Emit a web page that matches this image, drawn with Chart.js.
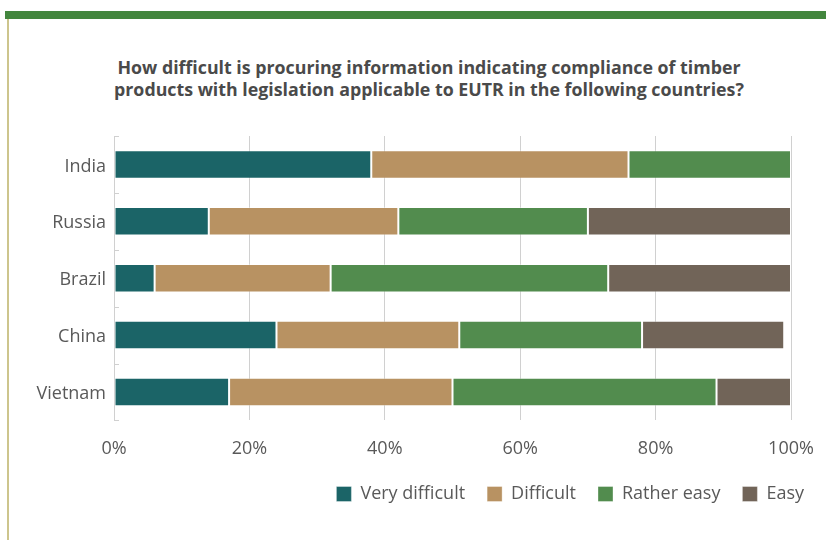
<!DOCTYPE html>
<html>
<head>
<meta charset="utf-8">
<script src="https://cdn.jsdelivr.net/npm/chart.js@4.4.1/dist/chart.umd.min.js"></script>
<style>
  html, body { margin: 0; padding: 0; background: #fff; }
  #wrap { position: relative; width: 826px; height: 540px; overflow: hidden; }
  #topbar { position: absolute; left: 5px; top: 11px; width: 821px; height: 8px; background: #43863e; }
  #sidebar { position: absolute; left: 7px; top: 19px; width: 2px; height: 521px; background: #cdc58d; }
  #title { position: absolute; left: 29px; width: 800px; top: 56px; text-align: center;
           font-family: "Open Sans", sans-serif; font-weight: bold; font-size: 17.8px; line-height: 22px; color: #4a4a4a; }
  #c { position: absolute; left: 0; top: 0; }
</style>
</head>
<body>
<div id="wrap">
  <div id="topbar"></div>
  <div id="sidebar"></div>
  <div id="title"></div>
  <canvas id="c" width="826" height="540"></canvas>
</div>
<script>
const categories = ["India", "Russia", "Brazil", "China", "Vietnam"];
const veryDifficult = [38, 14, 6, 24, 17];
const difficult = [38, 28, 26, 27, 33];
const ratherEasy = [24, 28, 41, 27, 39];
const easy = [0, 30, 27, 21, 11];
const xTicks = [0, 20, 40, 60, 80, 100];
const titleLines = [
  "How difficult is procuring information indicating compliance of timber",
  "products with legislation applicable to EUTR in the following countries?"
];

document.getElementById("title").innerHTML = titleLines.join("<br>");

const FONT = "'Open Sans', sans-serif";
const TEXT = "#595959";

const innerTicks = {
  id: "innerTicks",
  afterLayout(chart) {
    chart.legend.left += 35;
    chart.legend.right += 35;
    chart.legend.top -= 15;
    chart.legend.bottom -= 15;
  },
  afterDatasetsDraw(chart) {
    const y = chart.scales.y, ctx = chart.ctx;
    ctx.save();
    ctx.strokeStyle = "#d0d0d0";
    ctx.lineWidth = 1;
    for (let i = 0; i <= categories.length; i++) {
      const py = Math.round(y.getPixelForValue(i - 0.5)) + 0.5;
      ctx.beginPath();
      ctx.moveTo(chart.chartArea.left, py);
      ctx.lineTo(chart.chartArea.left + 5, py);
      ctx.stroke();
    }
    ctx.restore();
  }
};

function ds(label, data, color) {
  return {
    label, data,
    backgroundColor: color,
    borderColor: "rgba(255,255,255,0.35)",
    borderWidth: 1,
    borderSkipped: false,
    barPercentage: 0.5,
    categoryPercentage: 1.0
  };
}

new Chart(document.getElementById("c"), {
  type: "bar",
  data: {
    labels: categories,
    datasets: [
      ds("Very difficult", veryDifficult, "#1b6467"),
      ds("Difficult", difficult, "#b89262"),
      ds("Rather easy", ratherEasy, "#528c4e"),
      ds("Easy", easy, "#716458")
    ]
  },
  plugins: [innerTicks],
  options: {
    indexAxis: "y",
    responsive: false,
    animation: false,
    layout: { padding: { left: 20, right: 35, top: 136, bottom: 12 } },
    plugins: {
      title: { display: false },
      legend: {
        position: "bottom",
        align: "end",
        labels: {
          color: TEXT,
          font: { family: FONT, size: 18 },
          boxWidth: 15,
          boxHeight: 15,
          padding: 22
        }
      },
      tooltip: { enabled: false }
    },
    scales: {
      x: {
        stacked: true,
        min: 0,
        max: 100,
        afterBuildTicks(scale) { scale.ticks = xTicks.map(v => ({ value: v })); },
        afterFit(scale) { scale.paddingLeft = 0; scale.paddingRight = 0; },
        ticks: {
          color: TEXT,
          font: { family: FONT, size: 18 },
          padding: 18,
          callback: v => v + "%"
        },
        grid: { color: "#d0d0d0", drawTicks: false },
        border: { display: false }
      },
      y: {
        stacked: true,
        afterFit(scale) { scale.width = 94; },
        ticks: {
          color: TEXT,
          font: { family: FONT, size: 18 },
          padding: 8,
          labelOffset: 2
        },
        grid: { display: false, drawTicks: false },
        border: { display: true, color: "#d0d0d0" }
      }
    }
  }
});
</script>
</body>
</html>
